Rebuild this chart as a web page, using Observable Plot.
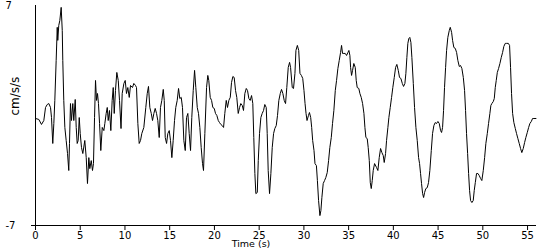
<!DOCTYPE html>
<html><head><meta charset="utf-8">
<script src="https://cdn.jsdelivr.net/npm/d3@7"></script>
<script src="https://cdn.jsdelivr.net/npm/@observablehq/plot@0.6"></script>
<style>body{margin:0;background:#fff}</style>
</head><body><div id="chart"></div>
<script>
const time = [
0.00,0.37,0.67,0.93,1.12,1.31,1.49,1.68,1.79,1.93,2.05,2.16,2.31,2.43,2.49,2.60,2.72,2.87,2.99,3.05,3.16,3.28,3.43,3.58,3.72,3.80,3.91,4.02,4.17,4.28,4.44,4.55,4.66,4.77,4.89,5.00,5.14,5.29,5.51,5.67,5.81,5.96,6.07,6.23,6.37,6.48,6.60,6.71,6.82,6.93,7.04,7.16,7.30,7.46,7.64,7.75,7.90,8.02,8.13,8.27,8.42,8.57,8.69,8.80,8.94,9.09,9.25,9.39,
9.56,9.69,9.88,10.03,10.17,10.32,10.48,10.62,10.84,10.99,11.18,11.29,11.44,11.59,11.74,11.88,12.11,12.33,12.49,12.63,12.78,12.94,13.08,13.23,13.38,13.53,13.67,13.83,13.97,14.12,14.28,14.39,14.50,14.65,14.79,14.95,15.09,15.24,15.39,15.54,15.68,15.84,15.99,16.13,16.29,16.43,16.58,16.74,16.88,17.03,17.18,17.33,17.47,17.63,17.78,17.92,18.08,18.22,18.37,18.52,18.67,18.78,18.93,
19.12,19.26,19.37,19.53,19.68,19.82,19.98,20.12,20.27,20.43,20.57,20.72,20.87,21.02,21.16,21.32,21.46,21.61,21.77,21.91,22.06,22.21,22.36,22.50,22.66,22.81,22.95,23.11,23.25,23.40,23.56,23.70,23.85,24.00,24.15,24.29,24.40,24.52,24.63,24.79,24.90,25.04,25.19,25.34,25.49,25.63,25.79,25.90,26.01,26.16,26.31,26.46,26.61,26.75,26.91,27.05,27.20,27.36,27.50,27.65,27.80,27.95,28.09,28.25,28.40,
28.51,28.70,28.84,29.00,29.11,29.27,29.42,29.56,29.72,29.87,30.01,30.13,30.24,30.35,30.51,30.62,30.76,30.87,30.98,31.13,31.24,31.40,31.51,31.64,31.79,31.90,32.01,32.16,32.31,32.45,32.61,32.76,32.90,33.06,33.20,33.35,33.51,33.65,33.80,33.95,34.10,34.21,34.32,34.47,34.62,34.77,34.92,35.03,35.14,35.22,35.33,35.44,35.58,35.74,35.85,35.96,36.14,36.26,36.41,36.56,36.71,36.82,36.93,37.08,37.19,37.31,37.42,37.53,37.64,37.75,37.90,
38.12,38.27,38.42,38.57,38.72,38.87,38.98,39.13,39.24,39.39,39.50,39.65,39.80,39.94,40.10,40.25,40.39,40.55,40.69,40.84,41.00,41.14,41.29,41.40,41.51,41.62,41.73,41.84,41.96,42.07,42.23,42.37,42.52,42.67,42.82,42.93,43.04,43.15,43.27,43.38,43.49,43.63,43.79,43.93,44.08,44.24,44.38,44.53,44.68,44.83,44.98,45.13,45.28,45.39,45.50,45.61,45.72,45.84,45.95,46.09,46.25,46.36,46.51,46.62,46.76,46.92,47.07,47.21,47.37,
47.51,47.66,47.82,47.96,48.07,48.18,48.30,48.41,48.52,48.63,48.78,48.93,49.04,49.16,49.30,49.45,49.60,49.75,49.89,50.05,50.20,50.34,50.50,50.64,50.79,50.90,51.01,51.17,51.28,51.39,51.50,51.62,51.76,51.91,52.06,52.21,52.35,52.51,52.66,52.85,52.99,53.10,53.21,53.33,53.47,53.63,53.77,53.92,54.07,54.22,54.36,54.52,54.67,54.81,54.97,55.12,55.26,55.42,55.56,55.71,55.94
];
const accel = [
-0.19,-0.25,-0.57,-0.32,0.51,0.70,0.76,0.51,-0.13,-1.78,-0.51,0.96,3.50,5.61,4.78,5.73,6.05,6.88,5.41,3.50,0.96,-0.76,-1.59,-2.42,-3.50,-1.78,0.76,-0.32,0.76,-0.32,1.02,-0.76,-1.78,-1.59,-0.13,-1.15,-2.04,-2.42,-1.59,-2.68,-4.33,-2.68,-3.38,-2.87,-3.50,-3.06,-0.13,2.23,0.96,1.40,0.76,-0.51,-2.23,-0.76,-0.96,-0.51,0.13,0.51,-0.32,0.32,-0.96,0.96,1.78,0.13,1.59,2.74,2.23,0.96,
-0.83,1.40,2.04,2.23,1.40,1.78,1.15,1.91,1.78,2.04,1.91,1.78,-0.51,-1.78,-1.59,-1.15,-0.76,0.51,1.40,1.85,0.51,0.13,-0.32,0.13,0.45,0.13,-0.32,-1.40,0.51,0.96,1.66,0.96,-1.40,-1.78,-1.15,-0.96,-1.59,-2.68,-1.59,-0.32,0.51,0.96,1.72,1.08,1.15,0.51,-1.59,-2.23,-0.13,0.13,-1.15,-2.23,-0.13,1.59,2.87,1.78,0.51,0.13,-0.76,-2.04,-3.06,-3.50,-1.15,
1.78,2.55,2.23,1.15,0.96,0.51,0.45,0.13,0.00,-0.32,-0.45,-0.57,-0.64,-0.76,0.13,0.96,0.51,0.96,1.15,2.10,2.48,2.42,1.59,1.15,0.13,0.51,0.76,0.64,0.32,1.40,1.72,1.59,1.08,0.96,1.27,0.76,-1.40,-3.69,-4.97,-4.90,-2.87,-1.15,-0.13,0.13,0.32,0.70,0.51,-1.15,-3.50,-4.97,-3.69,-2.04,-1.15,-0.83,-0.64,0.00,0.96,1.40,1.66,1.40,0.96,0.76,1.78,3.06,3.38,
3.06,1.78,1.72,2.68,4.14,4.46,4.14,2.68,2.55,2.36,1.59,0.76,0.13,-0.32,0.00,0.19,-0.13,-0.76,-1.59,-2.23,-3.06,-3.19,-4.14,-5.41,-6.37,-6.05,-5.22,-4.33,-4.14,-3.95,-3.63,-2.87,-2.04,-1.40,-0.51,0.32,1.59,2.23,2.99,3.50,4.01,4.46,3.95,3.95,3.95,3.82,4.01,4.14,3.82,3.06,2.55,2.87,3.31,3.06,2.23,1.78,1.72,1.40,1.15,0.76,0.13,-0.76,-1.40,-1.47,-2.04,-2.87,-4.27,-4.65,-4.14,-3.50,-3.06,
-3.31,-3.50,-2.68,-2.10,-2.36,-2.55,-2.99,-2.42,-1.59,-0.76,-0.13,0.51,1.15,1.78,2.42,3.06,3.25,2.87,2.42,2.36,2.04,1.85,2.04,2.68,3.69,4.59,4.90,4.97,4.65,3.69,2.04,0.51,-0.76,-1.59,-2.68,-3.06,-3.69,-4.33,-4.97,-5.22,-4.90,-4.65,-4.59,-4.27,-3.50,-2.23,-1.15,-0.64,-0.45,-0.51,-0.38,-0.51,-0.96,-1.08,-0.76,0.32,1.78,3.06,4.14,4.97,5.41,5.61,5.29,4.78,4.33,4.27,4.01,3.50,3.12,
3.18,2.99,2.42,1.59,0.32,-1.15,-2.42,-3.69,-4.78,-5.41,-5.54,-5.41,-4.78,-4.27,-3.69,-3.69,-3.82,-4.01,-4.14,-3.50,-2.68,-1.78,-1.15,-0.51,0.13,0.64,0.76,0.89,1.08,1.78,2.23,2.74,2.99,3.31,3.69,4.01,4.40,4.59,4.59,4.59,4.46,3.06,1.40,0.13,-0.45,-0.83,-1.15,-1.47,-1.78,-2.10,-2.36,-2.10,-1.72,-1.40,-1.08,-0.76,-0.51,-0.38,-0.19,-0.19,-0.19
];
const xTicks = [0,5,10,15,20,25,30,35,40,45,50,55];
const yTicks = [7,-7];
const xLabel = "Time (s)";
const yLabel = "cm/s/s";

const data = time.map((t, i) => ({t, a: accel[i]}));

const chart = Plot.plot({
  width: 550, height: 250,
  marginLeft: 35, marginRight: 14, marginTop: 5, marginBottom: 25,
  x: {domain: [0, 56]},
  y: {domain: [-7, 7], axis: null},
  style: {fontFamily: "DejaVu Sans", fontSize: "10px", background: "white", color: "black"},
  marks: [
    Plot.ruleX([0], {stroke: "black"}),
    Plot.ruleY([-7], {stroke: "black", insetLeft: -4}),
    Plot.axisX({ticks: xTicks, tickSize: 5, tickPadding: 1, fontSize: 10, label: null, tickFormat: d => String(d), stroke: "black", fill: "black"}),
    Plot.text(yTicks, {y: d => d, frameAnchor: "left", dx: -30, textAnchor: "start", text: d => String(d), fill: "black"}),
    Plot.text([xLabel], {frameAnchor: "bottom", dy: 21, dx: -35, text: d => d, fill: "black", fontSize: 9.5}),
    Plot.text([yLabel], {frameAnchor: "left", dx: -20, rotate: -90, text: d => d, fill: "black", fontSize: 12}),
    Plot.line(data, {x: "t", y: "a", stroke: "black", strokeWidth: 1})
  ]
});
document.getElementById("chart").appendChild(chart);
</script>
</body></html>
